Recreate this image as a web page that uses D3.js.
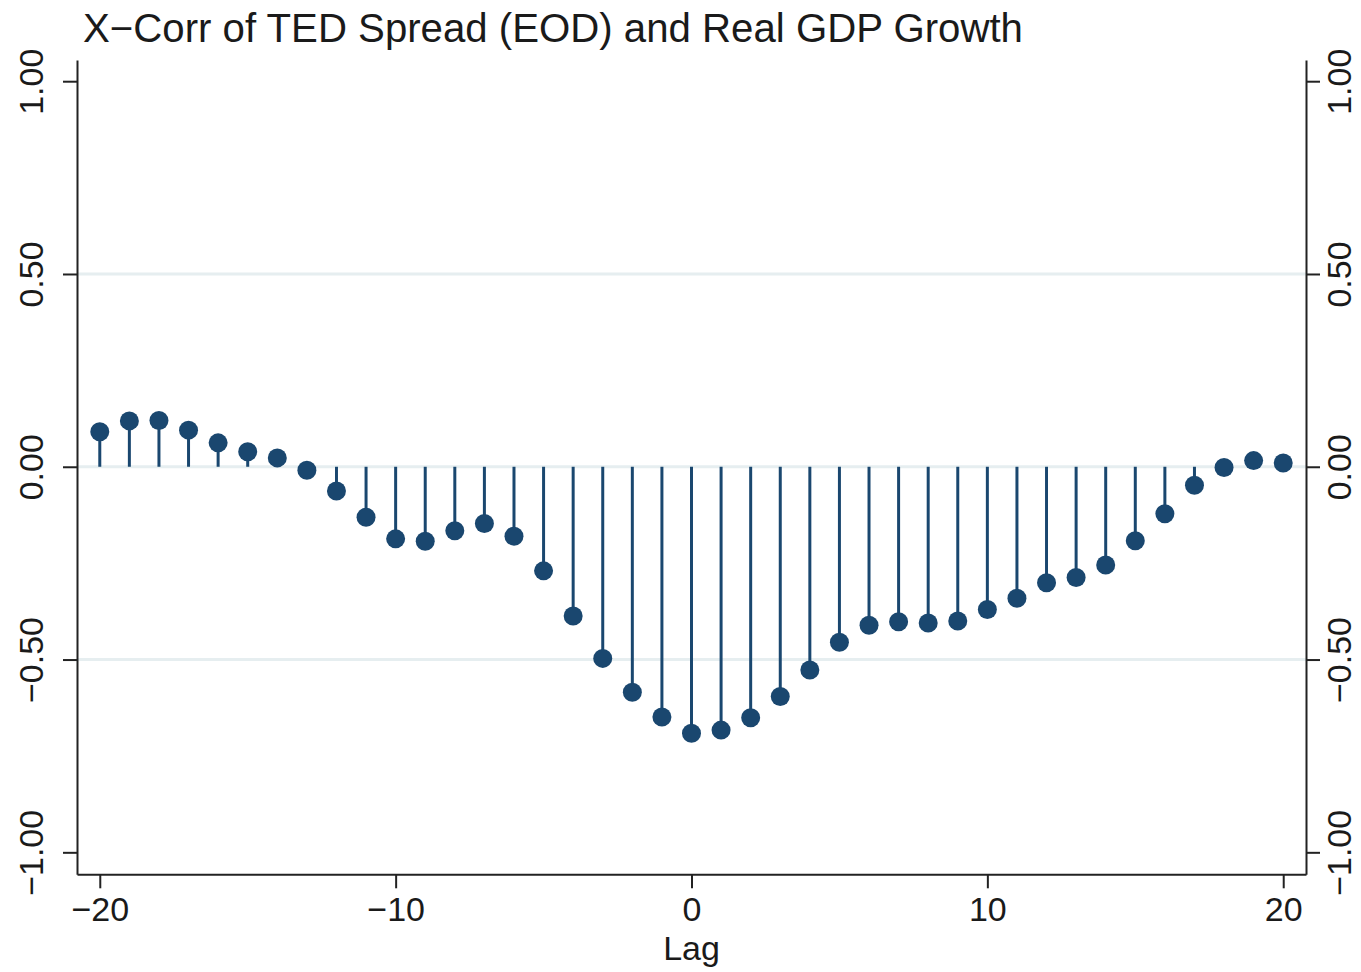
<!DOCTYPE html>
<html>
<head>
<meta charset="utf-8">
<script src="https://cdn.jsdelivr.net/npm/d3@7"></script>
<style>
  html, body { margin: 0; padding: 0; background: #ffffff; }
  svg { display: block; font-family: "Liberation Sans", Arial, Helvetica, sans-serif; }
</style>
</head>
<body>
<svg id="chart" width="1361" height="972"></svg>
<script>
// Cross-correlation of TED spread (end of day) with real GDP growth, lags -20..20
const lags = [-20, -19, -18, -17, -16, -15, -14, -13, -12, -11, -10,
              -9, -8, -7, -6, -5, -4, -3, -2, -1, 0,
              1, 2, 3, 4, 5, 6, 7, 8, 9, 10,
              11, 12, 13, 14, 15, 16, 17, 18, 19, 20];
const xcorr = [0.091, 0.119, 0.120, 0.095, 0.062, 0.039, 0.023, -0.009, -0.063, -0.131, -0.187,
               -0.193, -0.166, -0.147, -0.180, -0.270, -0.387, -0.497, -0.585, -0.649, -0.691,
               -0.683, -0.651, -0.596, -0.527, -0.455, -0.411, -0.402, -0.405, -0.400, -0.370,
               -0.341, -0.301, -0.287, -0.255, -0.192, -0.122, -0.048, -0.002, 0.016, 0.010];
const yTicks = [-1, -0.5, 0, 0.5, 1];
const yGrid = [-0.5, 0, 0.5];
const xTicks = [-20, -10, 0, 10, 20];
const titleText = "X\u2212Corr of TED Spread (EOD) and Real GDP Growth";
const xTitle = "Lag";

const svg = d3.select("#chart");
const plot = { left: 77, right: 1306, top: 60, bottom: 874.3 };

const x = d3.scaleLinear().domain([-20.77, 20.77]).range([plot.left, plot.right]);
const y = d3.scaleLinear().domain([-1.057, 1.055]).range([plot.bottom, plot.top]);

const navy = "#1a476f";
const axisColor = "#222222";
const fmt = d3.format(".2f");

// horizontal grid lines
svg.append("g")
  .selectAll("line")
  .data(yGrid)
  .join("line")
  .attr("x1", plot.left).attr("x2", plot.right)
  .attr("y1", d => y(d)).attr("y2", d => y(d))
  .attr("stroke", "#e6eef0")
  .attr("stroke-width", 3);

// stems
svg.append("g")
  .selectAll("line")
  .data(lags)
  .join("line")
  .attr("x1", d => x(d)).attr("x2", d => x(d))
  .attr("y1", y(0))
  .attr("y2", (d, i) => y(xcorr[i]))
  .attr("stroke", navy)
  .attr("stroke-width", 3);

// markers
svg.append("g")
  .selectAll("circle")
  .data(lags)
  .join("circle")
  .attr("cx", d => x(d))
  .attr("cy", (d, i) => y(xcorr[i]))
  .attr("r", 9.5)
  .attr("fill", navy);

function styleAxis(g) {
  g.select(".domain").attr("stroke", axisColor).attr("stroke-width", 2);
  g.selectAll(".tick line").attr("stroke", axisColor).attr("stroke-width", 2);
  g.selectAll(".tick text").attr("fill", "#1a1a1a").attr("font-size", 34)
    .attr("font-family", "'Liberation Sans', Arial, sans-serif");
}

// left axis
const gL = svg.append("g")
  .attr("transform", `translate(${plot.left},0)`)
  .call(d3.axisLeft(y).tickValues(yTicks).tickFormat(fmt).tickSize(14).tickSizeOuter(0).tickPadding(0));
styleAxis(gL);
gL.selectAll(".tick text")
  .attr("x", null).attr("dy", null)
  .attr("text-anchor", "middle")
  .attr("transform", "translate(-34,0) rotate(-90)");

// right axis
const gR = svg.append("g")
  .attr("transform", `translate(${plot.right},0)`)
  .call(d3.axisRight(y).tickValues(yTicks).tickFormat(fmt).tickSize(14).tickSizeOuter(0).tickPadding(0));
styleAxis(gR);
gR.selectAll(".tick text")
  .attr("x", null).attr("dy", null)
  .attr("text-anchor", "middle")
  .attr("transform", "translate(45,0) rotate(-90)");

// bottom axis
const gB = svg.append("g")
  .attr("transform", `translate(0,${plot.bottom})`)
  .call(d3.axisBottom(x).tickValues(xTicks).tickFormat(d3.format("d")).tickSize(14).tickSizeOuter(0).tickPadding(0));
styleAxis(gB);
gB.selectAll(".tick text").attr("y", 47).attr("dy", null);

// axis title
svg.append("text")
  .attr("x", x(0)).attr("y", 960)
  .attr("text-anchor", "middle")
  .attr("font-size", 34)
  .attr("fill", "#1a1a1a")
  .text(xTitle);

// chart title
svg.append("text")
  .attr("x", 83).attr("y", 42)
  .attr("font-size", 40.2)
  .attr("fill", "#1a1a1a")
  .text(titleText);
</script>
</body>
</html>
